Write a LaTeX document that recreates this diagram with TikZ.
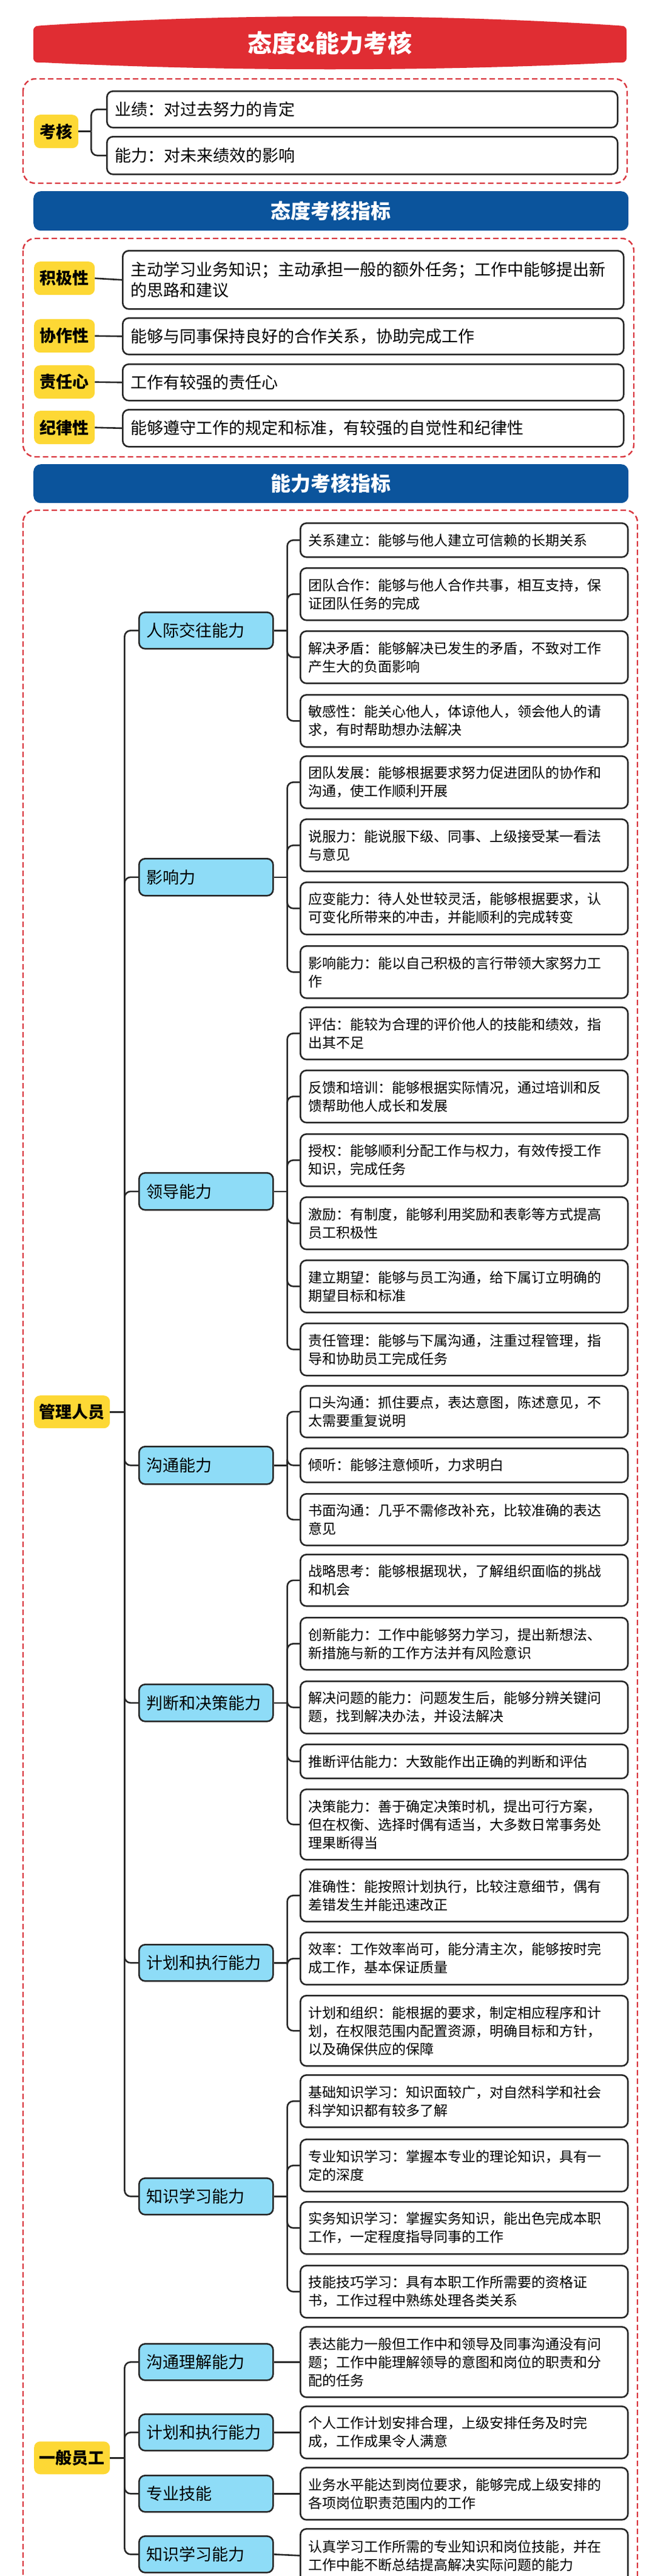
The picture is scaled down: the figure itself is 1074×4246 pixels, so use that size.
\documentclass[tikz,border=0pt]{standalone}
\usepackage{fontspec}
\setmainfont{Noto Sans CJK SC}
\usetikzlibrary{calc}
\definecolor{tred}{HTML}{E02D33}
\definecolor{tblue}{HTML}{0B549C}
\definecolor{tyel}{HTML}{FDD835}
\definecolor{tlb}{HTML}{8EDCF7}
\definecolor{tdash}{HTML}{D9363E}
\definecolor{tline}{HTML}{262626}
\tikzset{
 leafbox/.style={draw=tline,line width=2.6pt,rounded corners=10pt,fill=white,anchor=north west,
   text width=514pt,inner xsep=13pt,inner ysep=0pt,align=left,font=\fontsize{23}{30}\selectfont},
 midbox/.style={draw=tline,line width=2.6pt,rounded corners=10pt,fill=tlb,anchor=north west,
   minimum width=221pt,minimum height=60pt,inner xsep=12pt,text width=197pt,align=left,font=\fontsize{27}{32}\selectfont},
 yelbox/.style={fill=tyel,rounded corners=10pt,anchor=north west,inner sep=0pt,font=\bfseries\fontsize{27}{32}\selectfont},
 wbox/.style={draw=tline,line width=2.6pt,rounded corners=10pt,fill=white,anchor=north west,inner ysep=0pt,align=left,font=\fontsize{27}{34}\selectfont},
 conn/.style={draw=tline,line width=2.6pt},
 dashbox/.style={draw=tdash,line width=2.4pt,dash pattern=on 9pt off 5pt,rounded corners=20pt},
 hdr/.style={fill=tblue,rounded corners=12pt,text=white,font=\bfseries\fontsize{33}{38}\selectfont,inner sep=0pt}
}
\newcommand\leaf[4]{\node[leafbox,minimum height=#3pt] (#1) at (494,#2) {#4};}
\newcommand\midb[4]{\node[midbox,minimum height=#3pt] (#1) at (228,#2) {#4};}
\newcommand\cn[3]{\draw[conn] (#1.east) -- ++(#3,0);\draw[conn,rounded corners=10pt] ($(#1.east)+(#3,0)$) |- (#2.west);}
\begin{document}
\begin{tikzpicture}[x=1pt,y=-1pt]
\useasboundingbox (0,0) rectangle (1074,4246);
\fill[white] (0,0) rectangle (1074,4246);
% title
\fill[tred] (55,52) .. controls (55,42) and (60,43) .. (70,42) .. controls (380,22) and (708,22) .. (1018,42)
  .. controls (1028,43) and (1033,42) .. (1033,52) -- (1033,94) .. controls (1033,104) and (1028,103) .. (1018,103)
  .. controls (708,118) and (380,118) .. (70,103) .. controls (60,103) and (55,104) .. (55,94) -- cycle;
\node[text=white,font=\bfseries\fontsize{40}{44}\selectfont] (title) at (544,71) {态度\&能力考核};
% section 1
\draw[dashbox] (38,130) rectangle (1034,302);
\node[yelbox,minimum width=73pt,minimum height=55pt] (kh) at (56,189) {考核};
\node[wbox,text width=816pt,inner xsep=13pt,minimum height=60pt] (yj) at (175,149) {业绩：对过去努力的肯定};
\node[wbox,text width=816pt,inner xsep=13pt,minimum height=62pt] (nl) at (175,224) {能力：对未来绩效的影响};
\cn{kh}{yj}{21}\cn{kh}{nl}{21}
% header 2
\node[hdr,minimum width=981pt,minimum height=65pt,anchor=north west] (h2) at (55,315) {态度考核指标};
\draw[dashbox] (38,393) rectangle (1045,753);
\node[yelbox,minimum width=100pt,minimum height=55pt] (y1) at (56,431) {积极性};
\node[yelbox,minimum width=100pt,minimum height=55pt] (y2) at (56,526) {协作性};
\node[yelbox,minimum width=100pt,minimum height=55pt] (y3) at (56,602) {责任心};
\node[yelbox,minimum width=100pt,minimum height=55pt] (y4) at (56,677) {纪律性};
\node[wbox,text width=800pt,inner xsep=13pt,minimum height=96pt] (a1) at (201,412) {主动学习业务知识；主动承担一般的额外任务；工作中能够提出新\\的思路和建议};
\node[wbox,text width=800pt,inner xsep=13pt,minimum height=60pt] (a2) at (201,523) {能够与同事保持良好的合作关系，协助完成工作};
\node[wbox,text width=800pt,inner xsep=13pt,minimum height=60pt] (a3) at (201,599) {工作有较强的责任心};
\node[wbox,text width=800pt,inner xsep=13pt,minimum height=61pt] (a4) at (201,674) {能够遵守工作的规定和标准，有较强的自觉性和纪律性};
\foreach \i in {1,...,4}{\draw[conn] (y\i.east) -- (a\i.west);}
% header 3
\node[hdr,minimum width=981pt,minimum height=64pt,anchor=north west] (h3) at (55,765) {能力考核指标};
\draw[dashbox] (38,841) rectangle (1051,4275);
% management
\node[yelbox,minimum width=125pt,minimum height=54pt] (gl) at (56,2300) {管理人员};
\midb{m1}{1008}{60}{人际交往能力}
\midb{m2}{1414}{61}{影响力}
\midb{m3}{1932}{61}{领导能力}
\midb{m4}{2383}{62}{沟通能力}
\midb{m5}{2775}{61}{判断和决策能力}
\midb{m6}{3204}{60}{计划和执行能力}
\midb{m7}{3589}{60}{知识学习能力}
\foreach \i in {1,...,7}{\cn{gl}{m\i}{24}}
\leaf{l1}{861}{56}{关系建立：能够与他人建立可信赖的长期关系}
\leaf{l2}{935}{86}{团队合作：能够与他人合作共事，相互支持，保\\证团队任务的完成}
\leaf{l3}{1039}{86}{解决矛盾：能够解决已发生的矛盾，不致对工作\\产生大的负面影响}
\leaf{l4}{1144}{86}{敏感性：能关心他人，体谅他人，领会他人的请\\求，有时帮助想办法解决}
\leaf{l5}{1245}{86}{团队发展：能够根据要求努力促进团队的协作和\\沟通，使工作顺利开展}
\leaf{l6}{1349}{86}{说服力：能说服下级、同事、上级接受某一看法\\与意见}
\leaf{l7}{1453}{86}{应变能力：待人处世较灵活，能够根据要求，认\\可变化所带来的冲击，并能顺利的完成转变}
\leaf{l8}{1558}{86}{影响能力：能以自己积极的言行带领大家努力工\\作}
\leaf{l9}{1659}{86}{评估：能较为合理的评价他人的技能和绩效，指\\出其不足}
\leaf{l10}{1763}{86}{反馈和培训：能够根据实际情况，通过培训和反\\馈帮助他人成长和发展}
\leaf{l11}{1868}{86}{授权：能够顺利分配工作与权力，有效传授工作\\知识，完成任务}
\leaf{l12}{1972}{86}{激励：有制度，能够利用奖励和表彰等方式提高\\员工积极性}
\leaf{l13}{2076}{86}{建立期望：能够与员工沟通，给下属订立明确的\\期望目标和标准}
\leaf{l14}{2180}{86}{责任管理：能够与下属沟通，注重过程管理，指\\导和协助员工完成任务}
\leaf{l15}{2283}{85}{口头沟通：抓住要点，表达意图，陈述意见，不\\太需要重复说明}
\leaf{l16}{2386}{56}{倾听：能够注意倾听，力求明白}
\leaf{l17}{2461}{85}{书面沟通：几乎不需修改补充，比较准确的表达\\意见}
\leaf{l18}{2561}{85}{战略思考：能够根据现状，了解组织面临的挑战\\和机会}
\leaf{l19}{2665}{86}{创新能力：工作中能够努力学习，提出新想法、\\新措施与新的工作方法并有风险意识}
\leaf{l20}{2770}{86}{解决问题的能力：问题发生后，能够分辨关键问\\题，找到解决办法，并设法解决}
\leaf{l21}{2874}{56}{推断评估能力：大致能作出正确的判断和评估}
\leaf{l22}{2948}{116}{决策能力：善于确定决策时机，提出可行方案，\\但在权衡、选择时偶有适当，大多数日常事务处\\理果断得当}
\leaf{l23}{3080}{86}{准确性：能按照计划执行，比较注意细节，偶有\\差错发生并能迅速改正}
\leaf{l24}{3184}{86}{效率：工作效率尚可，能分清主次，能够按时完\\成工作，基本保证质量}
\leaf{l25}{3288}{116}{计划和组织：能根据的要求，制定相应程序和计\\划，在权限范围内配置资源，明确目标和方针，\\以及确保供应的保障}
\leaf{l26}{3419}{86}{基础知识学习：知识面较广，对自然科学和社会\\科学知识都有较多了解}
\leaf{l27}{3525}{86}{专业知识学习：掌握本专业的理论知识，具有一\\定的深度}
\leaf{l28}{3628}{86}{实务知识学习：掌握实务知识，能出色完成本职\\工作，一定程度指导同事的工作}
\leaf{l29}{3733}{86}{技能技巧学习：具有本职工作所需要的资格证\\书，工作过程中熟练处理各类关系}
\foreach \i in {1,...,4}{\cn{m1}{l\i}{22}}
\foreach \i in {5,...,8}{\cn{m2}{l\i}{22}}
\foreach \i in {9,...,14}{\cn{m3}{l\i}{22}}
\foreach \i in {15,...,17}{\cn{m4}{l\i}{22}}
\foreach \i in {18,...,22}{\cn{m5}{l\i}{22}}
\foreach \i in {23,...,25}{\cn{m6}{l\i}{22}}
\foreach \i in {26,...,29}{\cn{m7}{l\i}{22}}
% general staff
\node[yelbox,minimum width=125pt,minimum height=54pt] (yb) at (56,4024) {一般员工};
\midb{g1}{3862}{60}{沟通理解能力}
\midb{g2}{3978}{60}{计划和执行能力}
\midb{g3}{4079}{60}{专业技能}
\midb{g4}{4179}{60}{知识学习能力}
\leaf{k1}{3834}{116}{表达能力一般但工作中和领导及同事沟通没有问\\题；工作中能理解领导的意图和岗位的职责和分\\配的任务}
\leaf{k2}{3965}{86}{个人工作计划安排合理，上级安排任务及时完\\成，工作成果令人满意}
\leaf{k3}{4066}{86}{业务水平能达到岗位要求，能够完成上级安排的\\各项岗位职责范围内的工作}
\leaf{k4}{4167}{88}{认真学习工作所需的专业知识和岗位技能，并在\\工作中能不断总结提高解决实际问题的能力}
\foreach \i in {1,...,4}{\cn{yb}{g\i}{24}\draw[conn] (g\i.east) -- (k\i.west);}
\end{tikzpicture}
\end{document}
